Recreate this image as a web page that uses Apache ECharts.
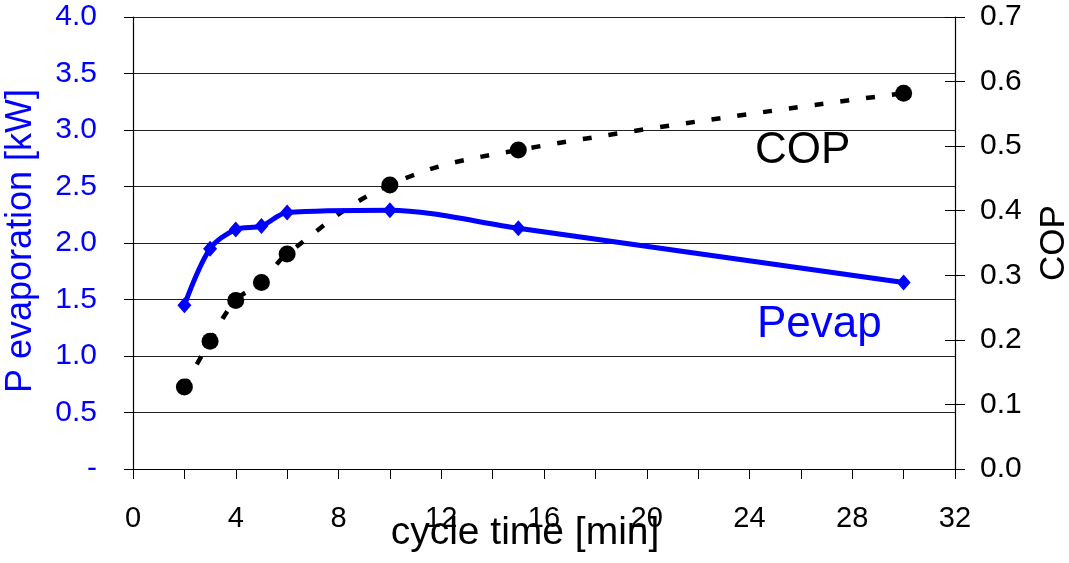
<!DOCTYPE html>
<html>
<head>
<meta charset="utf-8">
<script src="https://cdn.jsdelivr.net/npm/echarts@6/dist/echarts.min.js"></script>
<style>html,body{margin:0;padding:0;background:#fff;overflow:hidden}#c{width:1069px;height:563px}</style>
</head>
<body>
<div id="c"></div>
<script>
var cycleTime = [2, 3, 4, 5, 6, 10, 15, 30];
var pevap = [1.45, 1.95, 2.12, 2.15, 2.27, 2.29, 2.13, 1.65];
var cop = [0.127, 0.198, 0.261, 0.289, 0.333, 0.44, 0.494, 0.582];
var xTicks = [0, 4, 8, 12, 16, 20, 24, 28, 32];

var FONT = '"Liberation Sans", Arial, sans-serif';
var chart = echarts.init(document.getElementById('c'), null, {renderer: 'canvas'});
function pairs(xs, ys) { return xs.map(function (x, i) { return [x, ys[i]]; }); }

chart.setOption({
  animation: false,
  backgroundColor: '#fff',
  grid: {left: 133, right: 114, top: 17, bottom: 94, containLabel: false, outerBoundsMode: 'none'},
  xAxis: {
    type: 'value', min: 0, max: 32, interval: 2,
    axisLine: {show: true, onZero: false, lineStyle: {color: '#000', width: 1}},
    axisTick: {show: true, length: 10, lineStyle: {color: '#000'}},
    axisLabel: {fontFamily: FONT, fontSize: 29, color: '#000', margin: 35,
      formatter: function (v) { return xTicks.indexOf(v) >= 0 ? String(v) : ''; }},
    splitLine: {show: false}
  },
  yAxis: [
    {
      type: 'value', min: 0, max: 4, interval: 0.5, position: 'left',
      axisLine: {show: true, lineStyle: {color: '#000', width: 1.2}},
      axisTick: {show: true, length: 9, lineStyle: {color: '#000'}},
      axisLabel: {fontFamily: FONT, fontSize: 30, color: '#0000ff', margin: 36,
        formatter: function (v) { return v === 0 ? '-' : v.toFixed(1); }},
      splitLine: {show: true, lineStyle: {color: '#222', width: 1}}
    },
    {
      type: 'value', min: 0, max: 0.7, interval: 0.1, position: 'right',
      axisLine: {show: true, lineStyle: {color: '#000', width: 1.2}},
      axisTick: {show: true, length: 10, lineStyle: {color: '#000'}},
      axisLabel: {fontFamily: FONT, fontSize: 30, color: '#000', margin: 25,
        formatter: function (v) { return v.toFixed(1); }},
      splitLine: {show: false}
    },
    {
      type: 'value', min: 0, max: 0.7, interval: 0.1, position: 'right',
      axisLine: {show: false},
      axisTick: {show: true, inside: true, length: 10, lineStyle: {color: '#000'}},
      axisLabel: {show: false},
      splitLine: {show: false}
    }
  ],
  series: [
    {
      name: 'COP', type: 'line', yAxisIndex: 1, smooth: 0.4,
      data: pairs(cycleTime, cop),
      symbol: 'circle', symbolSize: 17,
      itemStyle: {color: '#000'},
      lineStyle: {color: '#000', width: 4.5, type: [9, 17]},
      z: 3
    },
    {
      name: 'Pevap', type: 'line', yAxisIndex: 0, smooth: 0.3,
      data: pairs(cycleTime, pevap),
      symbol: 'diamond', symbolSize: [14, 16],
      itemStyle: {color: '#0000ff'},
      lineStyle: {color: '#0000ff', width: 5},
      z: 4
    }
  ],
  graphic: [
    {type: 'text', x: 755, y: 151, style: {text: 'COP', fontFamily: FONT, fontSize: 44, fill: '#000', align: 'left', verticalAlign: 'middle'}},
    {type: 'text', x: 757, y: 325, style: {text: 'Pevap', fontFamily: FONT, fontSize: 44, fill: '#0000ff', align: 'left', verticalAlign: 'middle'}},
    {type: 'text', x: 525, y: 533, style: {text: 'cycle time [min]', fontFamily: FONT, fontSize: 39, fill: '#000', align: 'center', verticalAlign: 'middle'}},
    {type: 'text', x: 21, y: 241, rotation: Math.PI / 2, style: {text: 'P evaporation [kW]', fontFamily: FONT, fontSize: 36, fill: '#0000ff', align: 'center', verticalAlign: 'middle'}},
    {type: 'text', x: 1054, y: 243, rotation: Math.PI / 2, style: {text: 'COP', fontFamily: FONT, fontSize: 35, fill: '#000', align: 'center', verticalAlign: 'middle'}}
  ]
});
</script>
</body>
</html>
